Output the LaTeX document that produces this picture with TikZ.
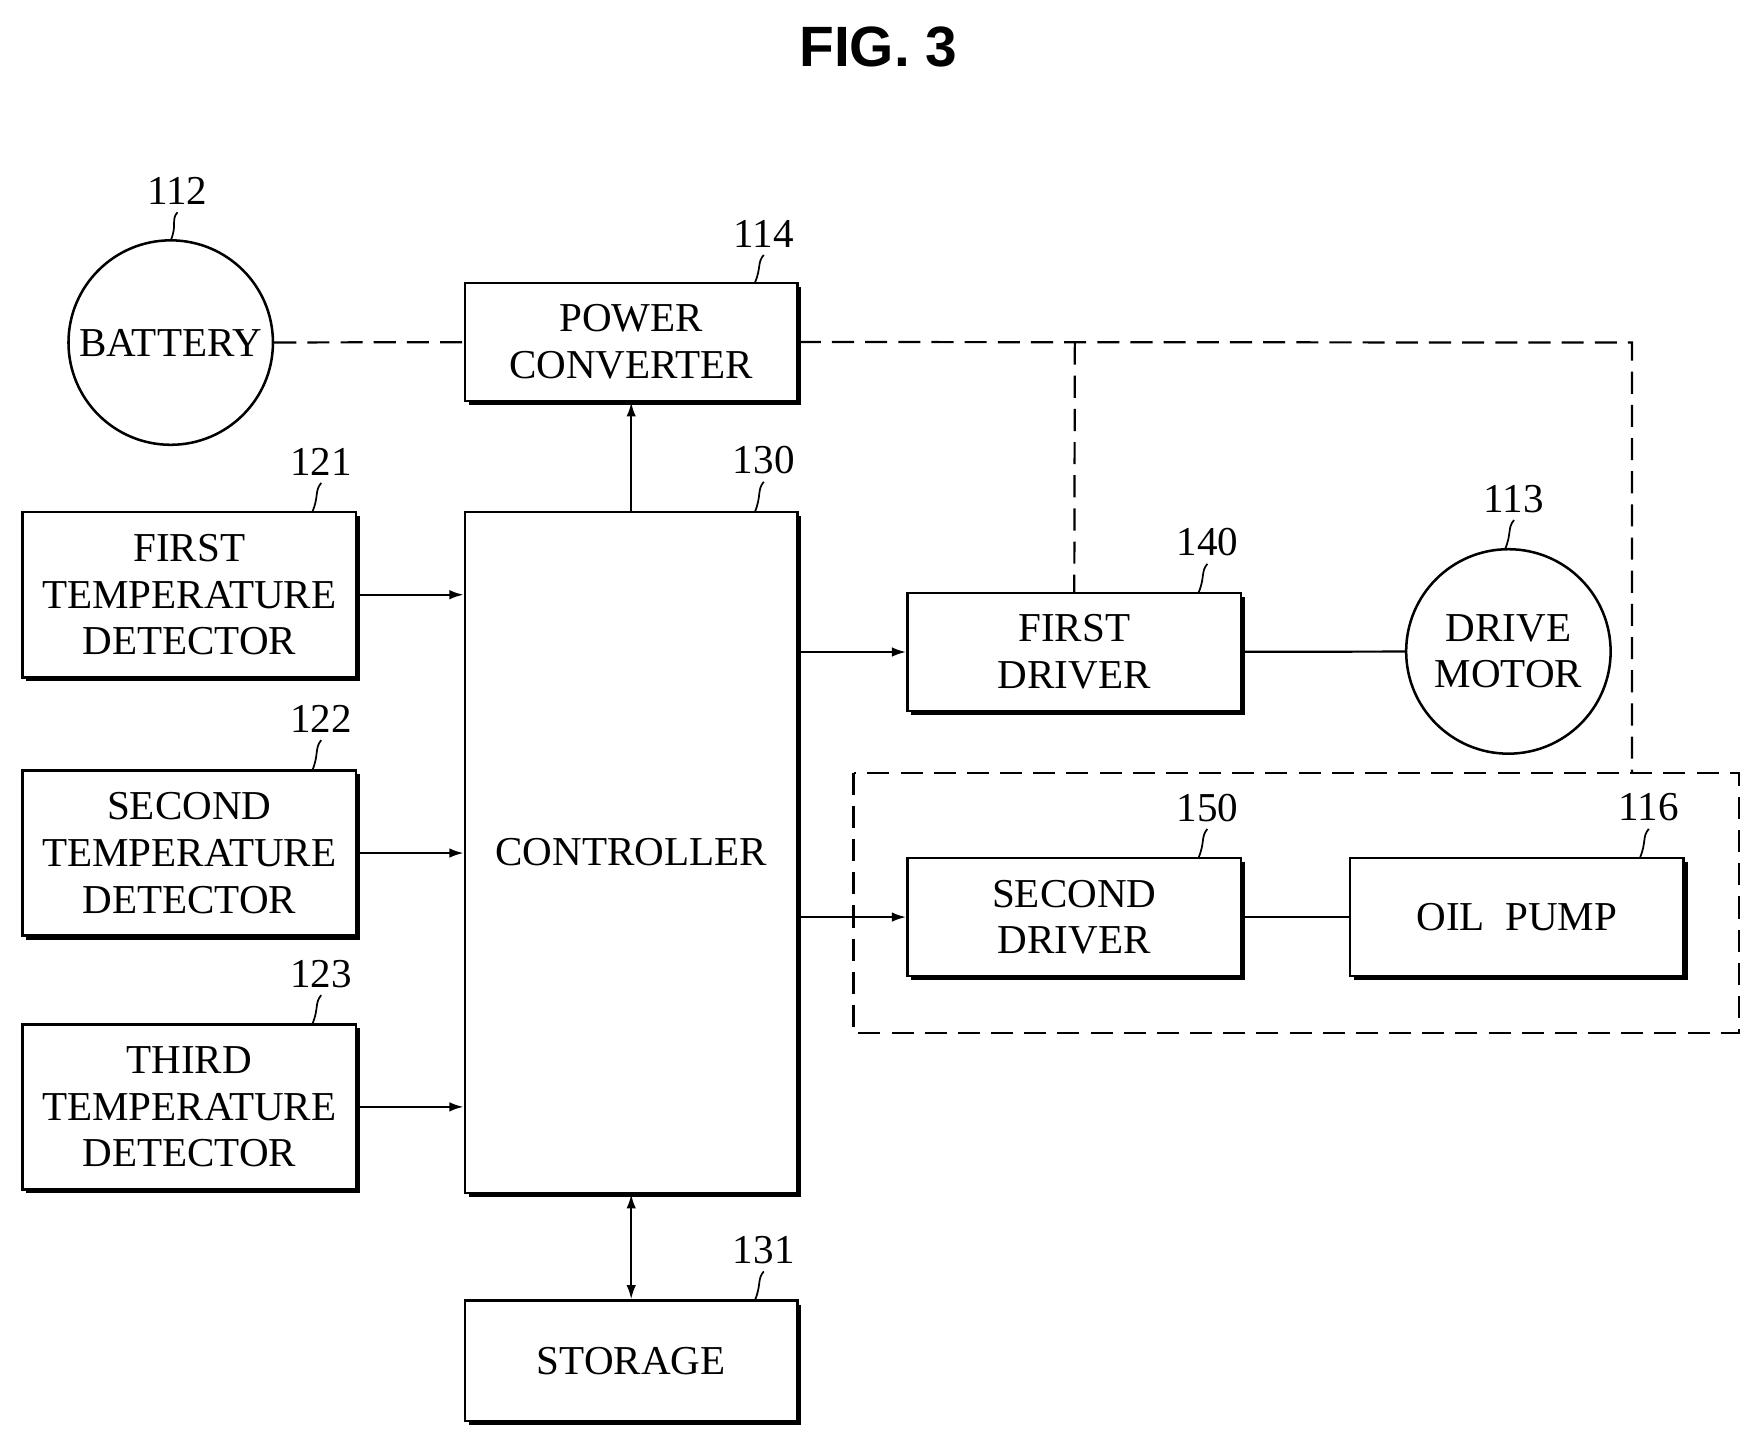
\documentclass[tikz,border=0pt]{standalone}
\usepackage{fontspec}
\setmainfont{Liberation Serif}
\newfontfamily\titlefont{Liberation Sans}
\usetikzlibrary{shadows,arrows.meta}
\begin{document}
\begin{tikzpicture}[x=0.025cm,y=-0.025cm,
  box/.style={draw,line width=1.6pt,fill=white,align=center,font=\fontsize{26}{29.5}\selectfont,
    drop shadow={shadow xshift=2.5pt,shadow yshift=-2.5pt,fill=black,opacity=1},inner sep=0pt},
  circ/.style={draw,line width=1.6pt,circle,minimum size=4.55cm,align=center,inner sep=0pt,font=\fontsize{26}{29.5}\selectfont},
  lab/.style={font=\fontsize{26}{29}\selectfont},
  dsh/.style={line width=1.4pt,dash pattern=on 14pt off 7pt},
  arr/.style={line width=1.4pt,-{Latex[length=9pt,width=6pt]}},
  ln/.style={line width=1.4pt}]
\useasboundingbox (0,0) rectangle (1551,1272);
\node[font=\titlefont\bfseries\fontsize{36}{40}\selectfont] (title) at (782,42) {FIG. 3};
\node[circ] (bat) at (152,305) {BATTERY};
\node[circ] (mot) at (1343,580) {DRIVE\\MOTOR};
\node[box,minimum width=7.4cm,minimum height=2.625cm] (pc) at (562,304.5) {POWER\\CONVERTER};
\node[box,minimum width=7.4cm,minimum height=15.15cm] (ctl) at (562,759) {CONTROLLER};
\node[box,minimum width=7.4cm,minimum height=2.675cm] (sto) at (562,1211.5) {STORAGE};
\node[box,minimum width=7.425cm,minimum height=3.675cm] (t1) at (168.5,529.5) {FIRST\\TEMPERATURE\\DETECTOR};
\node[box,minimum width=7.425cm,minimum height=3.675cm] (t2) at (168.5,759.5) {SECOND\\TEMPERATURE\\DETECTOR};
\node[box,minimum width=7.425cm,minimum height=3.675cm] (t3) at (168.5,985.5) {THIRD\\TEMPERATURE\\DETECTOR};
\node[box,minimum width=7.425cm,minimum height=2.625cm] (d1) at (956.5,580.5) {FIRST\\DRIVER};
\node[box,minimum width=7.425cm,minimum height=2.625cm] (d2) at (956.5,816.5) {SECOND\\DRIVER};
\node[box,minimum width=7.425cm,minimum height=2.625cm] (op) at (1350.5,816.5) {OIL\ \ PUMP};
\draw[dsh] (760,688) rectangle (1548,920);
\foreach \n/\x/\y/\tx/\ty in {112/158/170/152/214, 114/680/208/672/252, 130/680/410/672/456, 131/680/1113/672/1158,
  121/286/411/278/456, 122/286/640/278/686, 123/286/867/278/912, 140/1075/483/1067/528, 113/1348/444/1340/489,
  150/1075/719/1067/764, 116/1468/719/1460/764}{
  \node[lab] (l\n) at (\x,\y) {\n};
  \draw[line width=1.1pt] (\x,\y+19) .. controls (\x-6,\y+26) and (\tx+6,\ty-14) .. (\tx,\ty);
}
\coordinate (c1) at (1453,305);
\coordinate (c2) at (1453,688);
\coordinate (c3) at (957,305);
\draw[dsh] (bat) -- (pc);
\draw[dsh] (pc.east) -- (c1) -- (c2);
\draw[dsh] (c3) -- (d1.north);
\draw[arr] (ctl.north) -- (pc.south);
\draw[arr] (t1.east) -- (t1.east -| ctl.west);
\draw[arr] (t2.east) -- (t2.east -| ctl.west);
\draw[arr] (t3.east) -- (t3.east -| ctl.west);
\draw[arr] (d1.west -| ctl.east) -- (d1.west);
\draw[arr] (d2.west -| ctl.east) -- (d2.west);
\draw[arr,{Latex[length=9pt,width=6pt]}-{Latex[length=9pt,width=6pt]}] (ctl.south) -- (sto.north);
\draw[ln] (d1) -- (mot);
\draw[ln] (d2) -- (op);
\end{tikzpicture}
\end{document}
